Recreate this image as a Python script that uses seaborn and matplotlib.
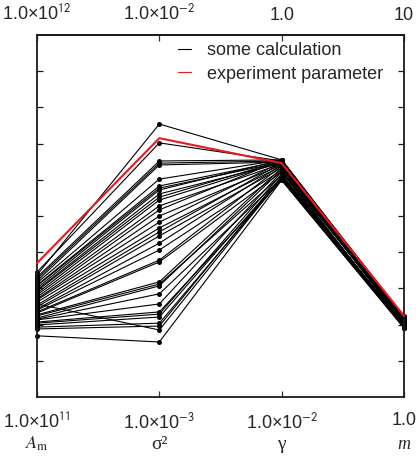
import numpy as np
import pandas as pd
import matplotlib
matplotlib.use("Agg")
import matplotlib.pyplot as plt
from matplotlib.lines import Line2D
import seaborn as sns

# ---- data (log10 of parameter values) ----
axis_names = ["A_m", "sigma2", "gamma", "m"]
axis_lo = [11.0, -3.0, -2.0, 0.0]   # log10 at the bottom of each axis
axis_hi = [12.0, -2.0, 0.0, 1.0]    # log10 at the top of each axis
bottom_labels = ["1.0×10$^{11}$", "1.0×10$^{-3}$", "1.0×10$^{-2}$", "1.0"]
top_labels = ["1.0×10$^{12}$", "1.0×10$^{-2}$", "1.0", "10"]

calc_log_Am = [11.337, 11.345, 11.331, 11.326, 11.320, 11.315, 11.309, 11.307, 11.301,
               11.296, 11.293, 11.287, 11.282, 11.276, 11.271, 11.268, 11.262, 11.254,
               11.249, 11.243, 11.240, 11.235, 11.232, 11.227, 11.224, 11.218, 11.215,
               11.213, 11.207, 11.204, 11.199, 11.193, 11.188, 11.169, 11.257]
calc_log_sigma2 = [-2.246, -2.298, -2.348, -2.354, -2.359, -2.398, -2.417, -2.423, -2.428,
                   -2.439, -2.448, -2.456, -2.472, -2.483, -2.500, -2.517, -2.533, -2.544,
                   -2.555, -2.575, -2.594, -2.622, -2.627, -2.682, -2.688, -2.693, -2.715,
                   -2.743, -2.765, -2.771, -2.779, -2.796, -2.804, -2.848, -2.815]
calc_log_gamma = [-0.690, -0.696, -0.690, -0.696, -0.702, -0.690, -0.696, -0.702, -0.690,
                  -0.708, -0.696, -0.702, -0.712, -0.690, -0.718, -0.702, -0.724, -0.708,
                  -0.734, -0.718, -0.746, -0.724, -0.756, -0.734, -0.774, -0.746, -0.790,
                  -0.756, -0.802, -0.768, -0.784, -0.796, -0.780, -0.802, -0.790]
calc_log_m = [0.218, 0.224, 0.221, 0.215, 0.218, 0.213, 0.221, 0.210, 0.215, 0.213, 0.207,
              0.218, 0.210, 0.204, 0.213, 0.207, 0.202, 0.215, 0.204, 0.199, 0.210, 0.202,
              0.196, 0.207, 0.199, 0.193, 0.204, 0.196, 0.191, 0.199, 0.193, 0.191, 0.196,
              0.191, 0.193]

exp_log = [11.370, -2.285, -0.708, 0.224]   # experiment parameter

# ---- build long-form table, normalised per axis ----
rows = []
calc = [calc_log_Am, calc_log_sigma2, calc_log_gamma, calc_log_m]
for i in range(len(calc_log_Am)):
    for k in range(4):
        v = calc[k][i]
        rows.append({"line": i, "axis": k,
                     "frac": (v - axis_lo[k]) / (axis_hi[k] - axis_lo[k])})
df_calc = pd.DataFrame(rows)
df_exp = pd.DataFrame({"line": 0, "axis": list(range(4)),
                       "frac": [(exp_log[k] - axis_lo[k]) / (axis_hi[k] - axis_lo[k])
                                for k in range(4)]})

# ---- style ----
sns.set_style("ticks")
plt.rcParams["font.family"] = ["Liberation Sans", "DejaVu Sans"]
plt.rcParams["mathtext.fontset"] = "stixsans"

fig = plt.figure(figsize=(4.18, 4.59), dpi=100)
ax = fig.add_axes([37 / 418, 1 - 397 / 459, (404 - 37) / 418, (397 - 35) / 459])

sns.lineplot(data=df_calc, x="axis", y="frac", units="line", estimator=None,
             color="black", linewidth=0.8, marker="o", markersize=3.6,
             markeredgewidth=0, legend=False, ax=ax, zorder=2, clip_on=False)
sns.lineplot(data=df_exp, x="axis", y="frac", units="line", estimator=None,
             color="#e8191f", linewidth=1.5, legend=False, ax=ax, zorder=3,
             clip_on=False)

ax.set_xlim(0, 3)
ax.set_ylim(0, 1)
ax.set_xlabel("")
ax.set_ylabel("")

for s in ax.spines.values():
    s.set_visible(True)
    s.set_linewidth(1.3)
    s.set_color("#1a1a1a")

ax.set_yticks(np.arange(0.1, 0.95, 0.1))
ax.tick_params(axis="y", which="both", left=True, right=True, labelleft=False,
               labelright=False, direction="in", length=4, width=0.9, color="#1a1a1a")
ax.set_xticks([0, 1, 2, 3])
ax.set_xticklabels(bottom_labels)
ax.tick_params(axis="x", direction="in", length=4, width=0.9, color="#333333",
               labelsize=13, pad=11)

sec = ax.secondary_xaxis("top")
sec.set_xticks([0, 1, 2, 3])
sec.set_xticklabels(top_labels)
sec.tick_params(axis="x", direction="in", length=4, width=0.9, color="#333333",
                labelsize=13, pad=8)
sec.spines["top"].set_linewidth(1.3)
sec.spines["top"].set_color("#1a1a1a")

# axis names
names_y = -0.13
ax.text(0, names_y, r"$A_{\mathrm{m}}$", transform=ax.get_xaxis_transform(),
        ha="center", va="center", fontsize=13, math_fontfamily="stix")
ax.text(1, names_y, "σ²", transform=ax.get_xaxis_transform(),
        ha="center", va="center", fontsize=14, family="Liberation Serif")
ax.text(2, names_y, "γ", transform=ax.get_xaxis_transform(),
        ha="center", va="center", fontsize=14, family="Liberation Serif")
ax.text(3, names_y, "m", transform=ax.get_xaxis_transform(),
        ha="center", va="center", fontsize=13, family="Liberation Serif",
        style="italic")

handles = [Line2D([], [], color="black", linewidth=0.8),
           Line2D([], [], color="#e8191f", linewidth=0.8)]
ax.legend(handles, ["some calculation", "experiment parameter"],
          loc="upper left", bbox_to_anchor=(0.375, 0.99), frameon=False,
          fontsize=13, handlelength=0.7, handletextpad=0.9, labelspacing=0.35,
          borderpad=0.2, borderaxespad=0)

fig.savefig("out.png", dpi=100)
